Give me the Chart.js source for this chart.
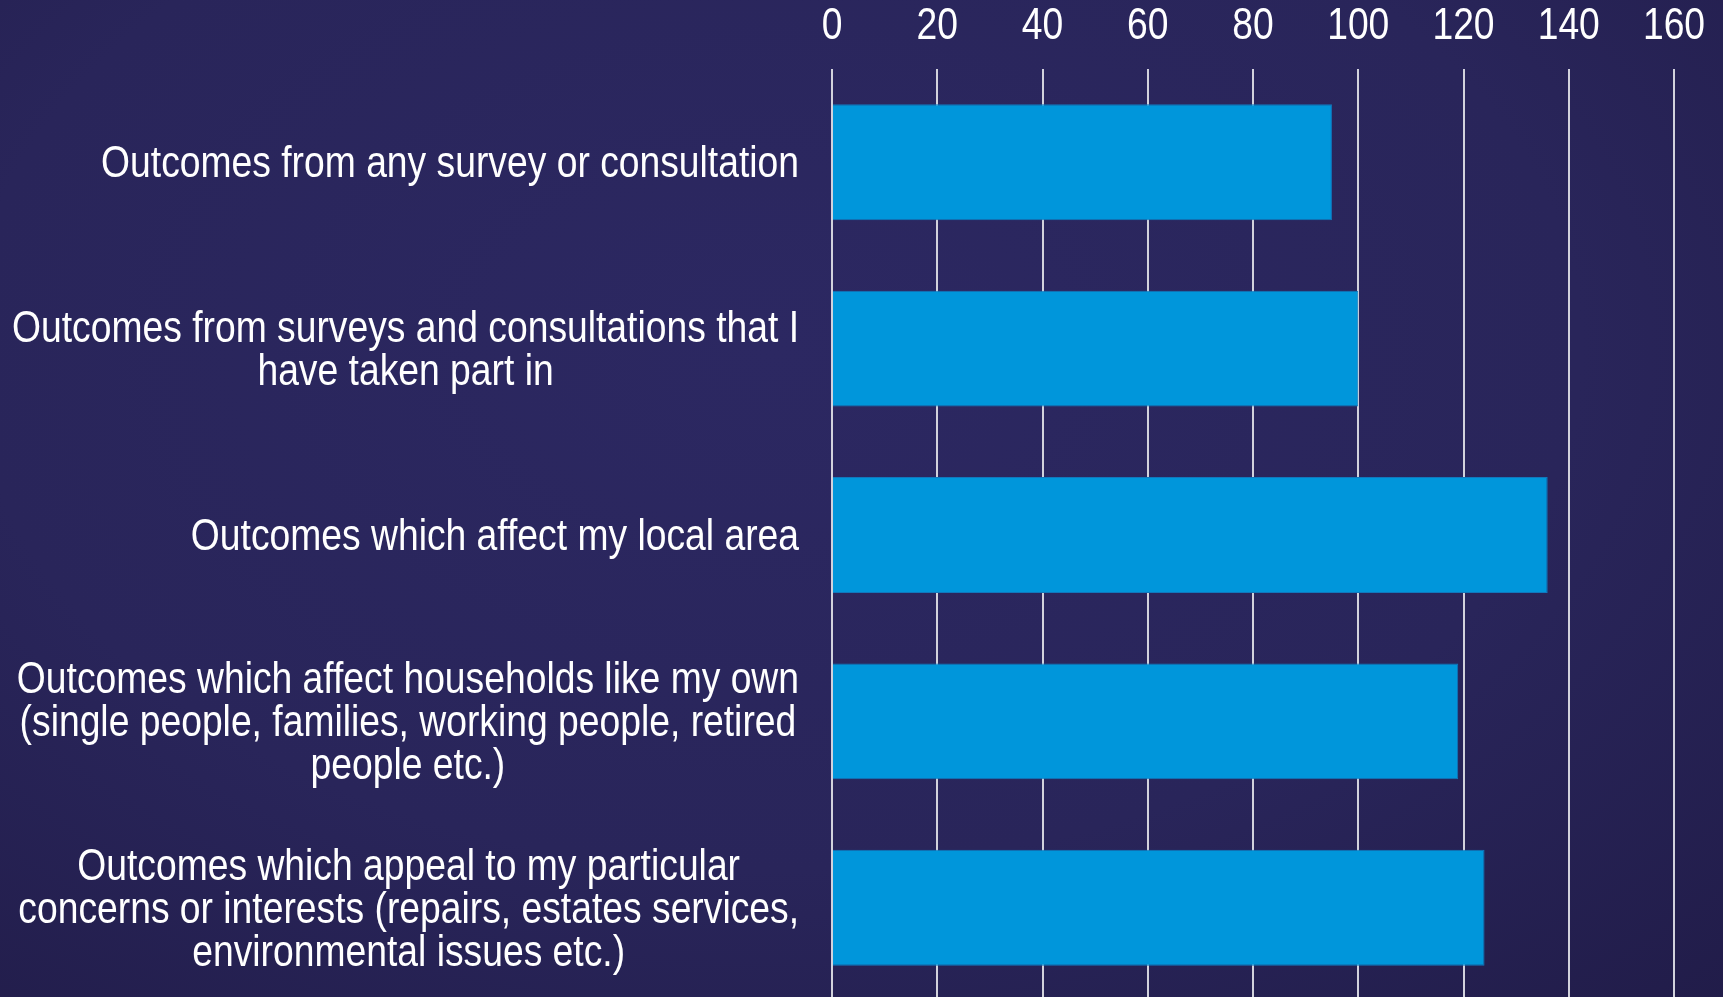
<!DOCTYPE html>
<html lang="en">
<head>
<meta charset="UTF-8">
<title>Outcomes</title>
<script src="https://cdn.jsdelivr.net/npm/chart.js@4.4.1/dist/chart.umd.min.js"></script>
<style>
  html, body { margin: 0; padding: 0; }
  body {
    width: 1723px;
    height: 997px;
    overflow: hidden;
    background: radial-gradient(ellipse 85% 95% at 45% 35%, #2c2862 0%, #29255a 55%, #201b47 100%);
  }
  #wrap { position: relative; width: 1723px; height: 1001px; }
</style>
</head>
<body>
<div id="wrap"><canvas id="outcomesChart"></canvas></div>
<script>
const categories = [
    ['Outcomes from any survey or consultation'],
    ['Outcomes from surveys and consultations that I', 'have taken part in'],
    ['Outcomes which affect my local area'],
    ['Outcomes which affect households like my own', '(single people, families, working people, retired', 'people etc.)'],
    ['Outcomes which appeal to my particular', 'concerns or interests (repairs, estates services,', 'environmental issues etc.)']
];
const responses = [95, 100, 136, 119, 124];
const tickValues = [0, 20, 40, 60, 80, 100, 120, 140, 160];

const fontFamily = "'Liberation Sans', Arial, sans-serif";
const textSize = 45;
const narrow = 0.828;      // horizontal squeeze, gives a narrow face
const capHalf = 15;        // roughly half the cap height at 45px
const lineStep = 43;

// draws one squeezed line of text centred on (x, baseline)
function narrowText(ctx, text, x, baseline) {
    ctx.save();
    ctx.translate(x, baseline);
    ctx.scale(narrow, 1);
    ctx.fillText(text, 0, 0);
    ctx.restore();
}

const axisText = {
    id: 'axisText',
    afterDraw(chart) {
        const { ctx } = chart;
        const x = chart.scales.x;
        const y = chart.scales.y;
        ctx.save();
        ctx.font = textSize + 'px ' + fontFamily;
        ctx.fillStyle = '#ffffff';
        ctx.textAlign = 'center';
        ctx.textBaseline = 'alphabetic';

        // value ticks above the plot
        x.ticks.forEach(t => {
            narrowText(ctx, String(t.value), x.getPixelForValue(t.value), 38.5);
        });

        // category text: block sits against the axis, lines centred inside it
        const right = y.right - 33;
        categories.forEach((lines, i) => {
            const blockWidth = Math.max(...lines.map(l => ctx.measureText(l).width)) * narrow;
            const cx = right - blockWidth / 2;
            const cy = y.getPixelForTick(i);
            lines.forEach((line, j) => {
                narrowText(ctx, line, cx, cy + capHalf + (j - (lines.length - 1) / 2) * lineStep);
            });
        });
        ctx.restore();
    }
};

document.addEventListener('DOMContentLoaded', () => {
    const ctx = document.getElementById('outcomesChart').getContext('2d');
    new Chart(ctx, {
        type: 'bar',
        data: {
            labels: categories,
            datasets: [{
                data: responses,
                backgroundColor: '#0096db',
                borderColor: '#1178bd',
                borderWidth: 1,
                barPercentage: 0.622,
                categoryPercentage: 1
            }]
        },
        options: {
            indexAxis: 'y',
            responsive: true,
            maintainAspectRatio: false,
            animation: false,
            layout: { padding: { top: 0, right: 49, bottom: 0, left: 0 } },
            scales: {
                x: {
                    position: 'top',
                    min: tickValues[0],
                    max: tickValues[tickValues.length - 1],
                    afterBuildTicks: scale => {
                        scale.ticks = tickValues.map(v => ({ value: v }));
                    },
                    ticks: { display: false },
                    grid: { color: '#d2d2dc', lineWidth: 2, drawTicks: false },
                    border: { display: false },
                    afterFit: scale => { scale.height = 69; }
                },
                y: {
                    ticks: { display: false },
                    grid: { display: false },
                    border: { display: false },
                    afterFit: scale => { scale.width = 832; }
                }
            },
            plugins: {
                legend: { display: false },
                tooltip: { enabled: false }
            }
        },
        plugins: [axisText]
    });
});
</script>
</body>
</html>
